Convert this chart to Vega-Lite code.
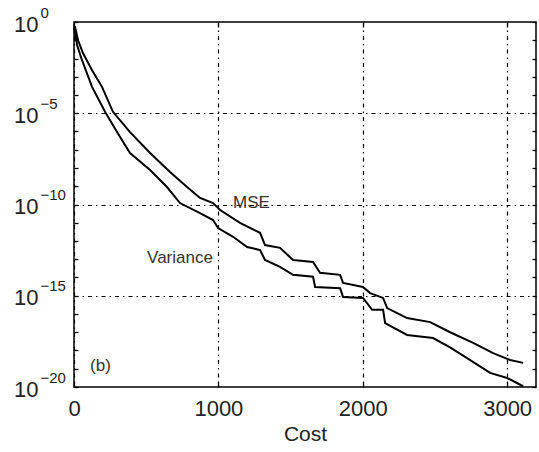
{
  "$schema": "https://vega.github.io/schema/vega-lite/v6.json",
  "width": 462,
  "height": 365,
  "autosize": "none",
  "padding": {"left": 74, "top": 22, "right": 3, "bottom": 65},
  "background": "white",
  "config": {
    "view": {"stroke": "black", "strokeWidth": 1.5},
    "axis": {"labelFont": "Liberation Sans", "titleFont": "Liberation Sans", "labelColor": "#222", "titleColor": "#222", "domainColor": "black", "tickColor": "black", "domainWidth": 1.5, "tickWidth": 1.3, "ticks": true}
  },
  "datasets": {
    "mse": [
      {"cost": 0, "v": 0.6}, {"cost": 7, "v": 0.54}, {"cost": 28, "v": 0.1}, {"cost": 62, "v": 0.02},
      {"cost": 125, "v": 2.3e-3}, {"cost": 194, "v": 2.8e-4}, {"cost": 270, "v": 1.2e-5},
      {"cost": 388, "v": 9.3e-7}, {"cost": 527, "v": 6.6e-8}, {"cost": 665, "v": 6.0e-9},
      {"cost": 783, "v": 9.1e-10}, {"cost": 873, "v": 2.3e-10}, {"cost": 963, "v": 1.2e-10},
      {"cost": 1012, "v": 5.0e-11}, {"cost": 1150, "v": 9.8e-12}, {"cost": 1289, "v": 2.8e-12},
      {"cost": 1323, "v": 6.0e-13}, {"cost": 1427, "v": 4.2e-13}, {"cost": 1517, "v": 9.1e-14},
      {"cost": 1656, "v": 7.1e-14}, {"cost": 1704, "v": 1.8e-14}, {"cost": 1843, "v": 1.4e-14},
      {"cost": 1864, "v": 5.0e-15}, {"cost": 2002, "v": 3.0e-15}, {"cost": 2051, "v": 1.4e-15},
      {"cost": 2141, "v": 7.6e-16}, {"cost": 2169, "v": 2.1e-16}, {"cost": 2307, "v": 6.0e-17},
      {"cost": 2467, "v": 3.6e-17}, {"cost": 2605, "v": 1.0e-17}, {"cost": 2765, "v": 2.6e-18},
      {"cost": 2903, "v": 7.2e-19}, {"cost": 3021, "v": 3.0e-19}, {"cost": 3111, "v": 2.1e-19}
    ],
    "variance": [
      {"cost": 0, "v": 0.5}, {"cost": 7, "v": 0.28}, {"cost": 21, "v": 0.055}, {"cost": 55, "v": 8.3e-3},
      {"cost": 125, "v": 2.8e-4}, {"cost": 215, "v": 1.2e-5}, {"cost": 298, "v": 9.3e-7},
      {"cost": 388, "v": 6.6e-8}, {"cost": 527, "v": 7.8e-9}, {"cost": 644, "v": 9.1e-10},
      {"cost": 734, "v": 1.2e-10}, {"cost": 873, "v": 3.4e-11}, {"cost": 963, "v": 1.4e-11},
      {"cost": 998, "v": 5.1e-12}, {"cost": 1102, "v": 1.7e-12}, {"cost": 1199, "v": 4.7e-13},
      {"cost": 1289, "v": 3.2e-13}, {"cost": 1323, "v": 9.1e-14}, {"cost": 1427, "v": 3.8e-14},
      {"cost": 1517, "v": 1.4e-14}, {"cost": 1656, "v": 1.1e-14}, {"cost": 1670, "v": 3.0e-15},
      {"cost": 1843, "v": 2.6e-15}, {"cost": 1864, "v": 8.5e-16}, {"cost": 2002, "v": 7.6e-16},
      {"cost": 2065, "v": 1.7e-16}, {"cost": 2141, "v": 1.7e-16}, {"cost": 2155, "v": 3.2e-17},
      {"cost": 2307, "v": 7.1e-18}, {"cost": 2487, "v": 4.8e-18}, {"cost": 2605, "v": 1.5e-18},
      {"cost": 2744, "v": 3.0e-19}, {"cost": 2882, "v": 5.9e-20}, {"cost": 3000, "v": 3.1e-20},
      {"cost": 3111, "v": 1.1e-20}
    ],
    "labels": [
      {"cost": 1102, "v": 1.2e-10, "text": "MSE"},
      {"cost": 506, "v": 1.2e-13, "text": "Variance"},
      {"cost": 111, "v": 1.4e-19, "text": "(b)"}
    ]
  },
  "resolve": {"axis": {"x": "independent", "y": "independent"}},
  "layer": [
    {
      "data": {"name": "mse"},
      "mark": {"type": "line", "color": "black", "strokeWidth": 2},
      "encoding": {
        "x": {"field": "cost", "type": "quantitative", "scale": {"domain": [0, 3200], "nice": false, "zero": false},
          "axis": {"orient": "bottom", "values": [0, 1000, 2000, 3000], "format": "d", "title": "Cost", "titleFontSize": 21, "titleFontWeight": "normal", "titlePadding": 4, "labelFontSize": 22, "offset": -5, "tickSize": 5, "domain": false, "labelPadding": 11, "labelFlush": false,
            "grid": true, "gridColor": "black", "gridWidth": 1.2, "gridDash": [4, 4, 1.5, 4]}},
        "y": {"field": "v", "type": "quantitative", "scale": {"type": "log", "domain": [1e-20, 1], "nice": false},
          "axis": {"orient": "left", "title": null, "values": [1, 1e-1, 1e-2, 1e-3, 1e-4, 1e-5, 1e-6, 1e-7, 1e-8, 1e-9, 1e-10, 1e-11, 1e-12, 1e-13, 1e-14, 1e-15, 1e-16, 1e-17, 1e-18, 1e-19, 1e-20],
            "labelExpr": "round(log(datum.value)/LN10) % 5 == 0 ? '10' : ''",
            "labelFontSize": 22, "labelOverlap": false, "offset": -4, "tickSize": 4, "domain": false, "labelPadding": 36, "labelOffset": 2,
            "grid": true, "gridColor": "black", "gridWidth": 1.2, "gridDash": [4, 4, 1.5, 4],
            "gridOpacity": {"condition": {"test": "round(log(datum.value)/LN10) % 5 == 0 && datum.value < 0.5 && datum.value > 1e-19", "value": 1}, "value": 0}}}
      }
    },
    {
      "data": {"name": "variance"},
      "mark": {"type": "line", "color": "black", "strokeWidth": 2},
      "encoding": {
        "x": {"field": "cost", "type": "quantitative",
          "axis": {"orient": "top", "values": [1000, 2000, 3000], "title": null, "labels": false, "offset": -5, "tickSize": 5, "domain": false, "grid": false}},
        "y": {"field": "v", "type": "quantitative",
          "axis": {"orient": "right", "title": null, "offset": -4, "tickSize": 4, "domain": false, "grid": false, "values": [1, 1e-1, 1e-2, 1e-3, 1e-4, 1e-5, 1e-6, 1e-7, 1e-8, 1e-9, 1e-10, 1e-11, 1e-12, 1e-13, 1e-14, 1e-15, 1e-16, 1e-17, 1e-18, 1e-19, 1e-20],
            "labelExpr": "round(log(datum.value)/LN10) % 5 == 0 ? (round(log(datum.value)/LN10) == 0 ? '0' : '\u2212' + (-round(log(datum.value)/LN10))) : ''",
            "labelFontSize": 15, "labelOverlap": false, "labelAlign": "left", "labelPadding": -496, "labelOffset": -10, "labelFont": "Liberation Sans", "labelColor": "#222"}}
      }
    },
    {
      "data": {"name": "labels"},
      "mark": {"type": "text", "font": "Liberation Sans", "fontSize": 17, "color": "#333", "align": "left", "baseline": "middle"},
      "encoding": {
        "x": {"field": "cost", "type": "quantitative", "axis": null},
        "y": {"field": "v", "type": "quantitative", "axis": null},
        "text": {"field": "text"}
      }
    }
  ]
}
